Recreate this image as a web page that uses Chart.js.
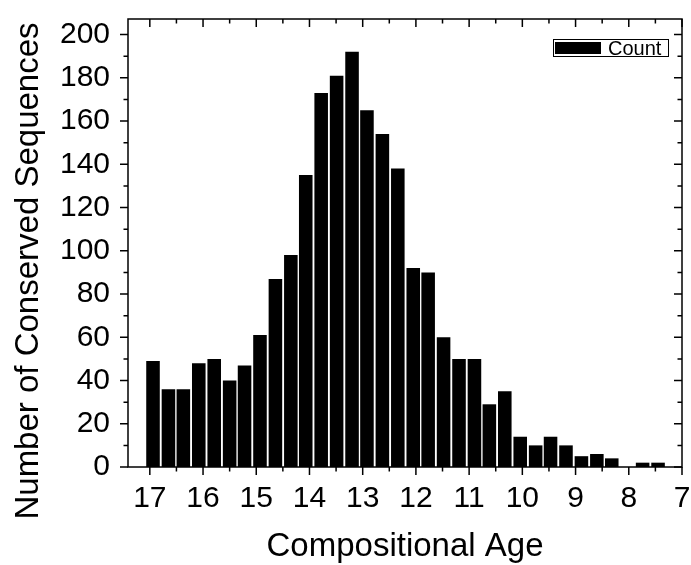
<!DOCTYPE html>
<html>
<head>
<meta charset="utf-8">
<script src="https://cdn.jsdelivr.net/npm/chart.js@4.4.0/dist/chart.umd.min.js"></script>
<style>
  html, body { margin: 0; padding: 0; background: #fff; }
  #wrap { width: 691px; height: 565px; }
</style>
</head>
<body>
<div id="wrap"><canvas id="histChart" width="691" height="565"></canvas></div>
<script>
// DATA
const binCenters = [16.94, 16.65, 16.37, 16.08, 15.79, 15.50, 15.22, 14.93, 14.64, 14.35,
                    14.07, 13.78, 13.49, 13.20, 12.92, 12.63, 12.34, 12.05, 11.77, 11.48,
                    11.19, 10.90, 10.62, 10.33, 10.04, 9.75, 9.47, 9.18, 8.89, 8.60,
                    8.32, 8.03, 7.74, 7.45];
const counts = [49, 36, 36, 48, 50, 40, 47, 61, 87, 98,
                135, 173, 181, 192, 165, 154, 138, 92, 90, 60,
                50, 50, 29, 35, 14, 10, 14, 10, 5, 6,
                4, 0, 2, 2];
const seriesLabel = 'Count';
const xTitle = 'Compositional Age';
const yTitle = 'Number of Conserved Sequences';

const FONT = "'Liberation Sans', Arial, sans-serif";

// --- frame, mirrored ticks, titles and legend box ---
const originFrame = {
    id: 'originFrame',
    afterDatasetsDraw(chart) {
        const ctx = chart.ctx;
        const a = chart.chartArea;
        const xs = chart.scales.x, ys = chart.scales.y;
        ctx.save();
        ctx.strokeStyle = '#000';
        ctx.lineWidth = 1.5;
        ctx.strokeRect(a.left, a.top, a.right - a.left, a.bottom - a.top);

        const MAJ = 8, MIN = 4.5;
        ctx.beginPath();
        // x ticks: majors from the scale, minors halfway
        const xv = xs.ticks.map(t => t.value);
        xv.forEach((v, i) => {
            const px = xs.getPixelForValue(v);
            ctx.moveTo(px, a.bottom); ctx.lineTo(px, a.bottom + MAJ);
            ctx.moveTo(px, a.top); ctx.lineTo(px, a.top + MAJ);
            if (i < xv.length - 1) {
                const mx = xs.getPixelForValue((v + xv[i + 1]) / 2);
                ctx.moveTo(mx, a.bottom); ctx.lineTo(mx, a.bottom + MIN);
                ctx.moveTo(mx, a.top); ctx.lineTo(mx, a.top + MIN);
            }
        });
        const yv = ys.ticks.map(t => t.value);
        yv.forEach((v, i) => {
            const py = ys.getPixelForValue(v);
            ctx.moveTo(a.left, py); ctx.lineTo(a.left - MAJ, py);
            ctx.moveTo(a.right, py); ctx.lineTo(a.right - MAJ, py);
            if (i < yv.length - 1) {
                const my = ys.getPixelForValue((v + yv[i + 1]) / 2);
                ctx.moveTo(a.left, my); ctx.lineTo(a.left - MIN, my);
                ctx.moveTo(a.right, my); ctx.lineTo(a.right - MIN, my);
            }
        });
        ctx.stroke();

        // axis titles
        ctx.fillStyle = '#000';
        ctx.font = '33px ' + FONT;
        ctx.textAlign = 'center';
        ctx.textBaseline = 'alphabetic';
        ctx.fillText(xTitle, (a.left + a.right) / 2, 556);
        ctx.translate(38, 271);
        ctx.rotate(-Math.PI / 2);
        ctx.fillText(yTitle, 0, 0);
        ctx.restore();

        // legend (inside plot, top right)
        ctx.save();
        ctx.lineWidth = 1;
        ctx.strokeStyle = '#000';
        ctx.strokeRect(553.5, 39.5, 115, 17);
        ctx.fillStyle = '#000';
        ctx.fillRect(555, 42, 46, 12);
        ctx.font = '20px ' + FONT;
        ctx.textAlign = 'left';
        ctx.textBaseline = 'middle';
        ctx.fillText(chart.data.datasets[0].label, 608, 49);
        ctx.restore();
    }
};

const ctx = document.getElementById('histChart').getContext('2d');
new Chart(ctx, {
    type: 'bar',
    data: {
        datasets: [{
            label: seriesLabel,
            data: binCenters.map((x, i) => ({ x: x, y: counts[i] })),
            backgroundColor: '#000',
            borderWidth: 0,
            barPercentage: 0.91,
            categoryPercentage: 1.0
        }]
    },
    options: {
        responsive: false,
        animation: false,
        layout: { padding: { left: 0, right: 9, top: 19, bottom: 0 } },
        plugins: { legend: { display: false }, tooltip: { enabled: false } },
        scales: {
            x: {
                type: 'linear',
                reverse: true,
                min: 7,
                max: 17.41,
                offset: false,
                grid: { display: false, drawTicks: false },
                border: { display: false },
                ticks: {
                    stepSize: 1,
                    includeBounds: false,
                    autoSkip: false,
                    maxRotation: 0,
                    padding: 14,
                    color: '#000',
                    font: { family: FONT, size: 30 }
                },
                afterFit(scale) {
                    scale.height = 98;
                    scale.paddingLeft = 0; scale.paddingRight = 0;
                }
            },
            y: {
                min: 0,
                max: 207.2,
                grid: { display: false, drawTicks: false },
                border: { display: false },
                ticks: {
                    stepSize: 20,
                    includeBounds: false,
                    padding: 18,
                    color: '#000',
                    font: { family: FONT, size: 30 }
                },
                afterFit(scale) {
                    scale.width = 128;
                    scale.paddingTop = 0; scale.paddingBottom = 0;
                }
            }
        }
    },
    plugins: [originFrame]
});
</script>
</body>
</html>
